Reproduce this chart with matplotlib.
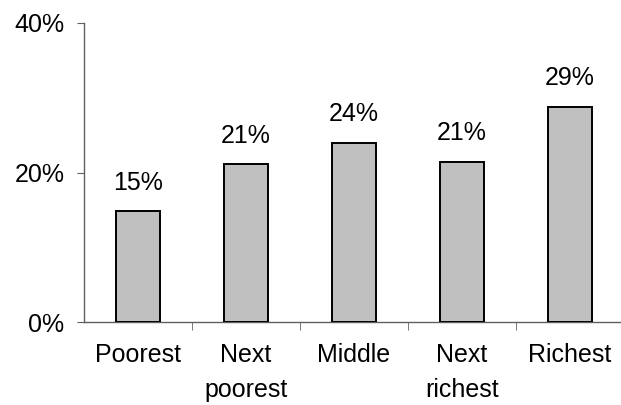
import matplotlib
matplotlib.use("Agg")
import matplotlib.pyplot as plt
import numpy as np

# Share by wealth quintile (%)
categories = ["Poorest", "Next\npoorest", "Middle", "Next\nrichest", "Richest"]
values = [14.8, 21.1, 24.0, 21.4, 28.8]
yticks = [0, 20, 40]

plt.rcParams["font.family"] = ["Liberation Sans", "DejaVu Sans"]

fig = plt.figure(figsize=(6.21, 4.05), dpi=100)
ax = fig.add_axes([84 / 621, 83 / 405, 537 / 621, 299 / 405])

x = np.arange(len(categories))
ax.bar(x, values, width=0.41, color="#c0c0c0", edgecolor="black", linewidth=1.4, zorder=3)

# value labels above bars
for xi, v in zip(x, values):
    ax.annotate(f"{v:.0f}%", (xi, v), xytext=(0, 12), textcoords="offset points",
                ha="center", va="bottom", fontsize=18)

ax.set_xlim(-0.5, 4.472)
ax.set_ylim(0, 40)

ax.set_yticks(yticks)
ax.set_yticklabels([f"{t}%" for t in yticks], fontsize=18)

# category labels centred, tick marks between categories
ax.set_xticks(x)
ax.set_xticklabels(categories, fontsize=18, linespacing=1.6)
ax.tick_params(axis="x", which="major", length=0, pad=15)
ax.set_xticks(np.arange(0.5, 4.0, 1.0), minor=True)
ax.tick_params(axis="x", which="minor", length=5.5, direction="out", color="#606060")
ax.tick_params(axis="y", length=5, direction="out", color="#606060", pad=9)

for s in ["top", "right"]:
    ax.spines[s].set_visible(False)
for s in ["left", "bottom"]:
    ax.spines[s].set_color("#606060")
    ax.spines[s].set_linewidth(1.0)

fig.savefig("out.png", dpi=100)
